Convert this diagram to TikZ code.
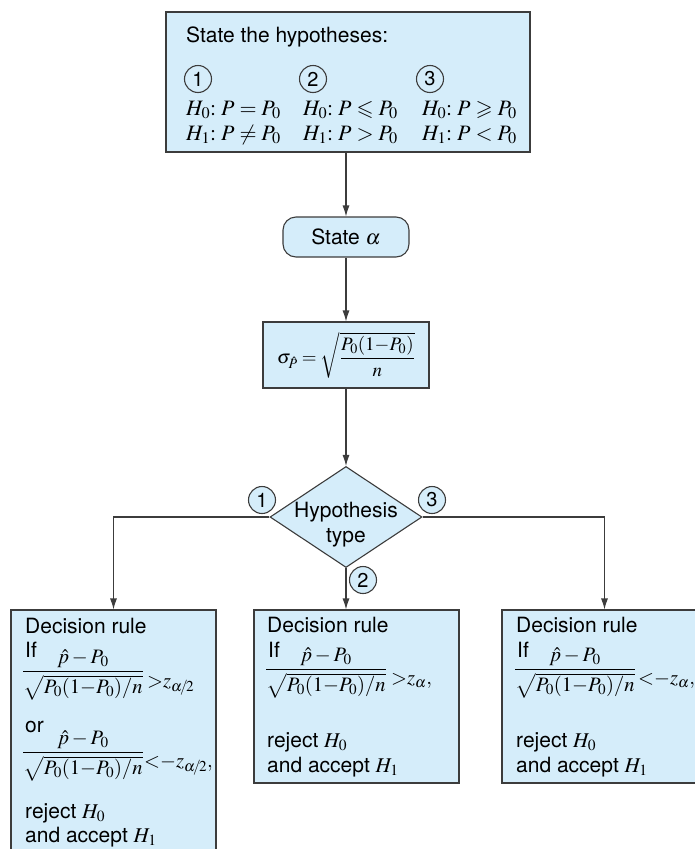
\documentclass[tikz,border=0pt]{standalone}
\usepackage{amsmath, amssymb}
\usepackage{mathptmx}
\usepackage[no-math]{fontspec}
\setsansfont{TeX Gyre Heros}
\usetikzlibrary{arrows.meta, positioning, calc, shapes.geometric}
\definecolor{boxblue}{RGB}{213,237,250}
\definecolor{linegray}{RGB}{60,60,60}
\tikzset{
    % light blue process box
    stepbox/.style={rectangle, draw=linegray, fill=boxblue, line width=1.1pt, inner sep=0pt},
    % rounded terminal box
    termbox/.style={stepbox, rounded corners=13pt},
    % decision diamond
    choice/.style={diamond, draw=linegray, fill=boxblue, line width=1.1pt, inner sep=0pt,
        minimum width=152pt, minimum height=101pt},
    % circled case number
    casenum/.style={circle, draw=linegray, fill=boxblue, line width=1.1pt, minimum size=27pt,
        inner sep=0pt, font=\fontsize{20}{24}\selectfont\sffamily},
    % one line of text, placed by its baseline
    txt/.style={anchor=base west, inner sep=0pt},
    % hypotheses lines
    mathtxt/.style={txt, font=\fontsize{22}{25}\selectfont},
    % test statistic with its leading word
    fractxt/.style={txt, font=\fontsize{20.5}{24}\selectfont\sffamily},
    % directed edges
    flow/.style={-{Latex[length=11pt, width=7pt]}, line width=1.1pt, draw=linegray},
}
\newcommand{\zratio}{\dfrac{\hat{p}-P_0}{\sqrt{P_0(1{-}P_0)/n}}}
\newcommand{\leadword}[2]{\rlap{\hspace{3pt}\raisebox{#1}{\fontsize{21}{25}\selectfont #2}}}

\begin{document}
\begin{tikzpicture}[x=1pt, y=-1pt, font=\fontsize{21}{25}\selectfont\sffamily]

    \useasboundingbox (0,0) rectangle (695,849);
    \clip (0,0) rectangle (695,849);

    % ---- hypotheses ----
    \node[stepbox, minimum width=364pt, minimum height=140pt] (hyps) at (348,82) {};
    \node[txt] (hyphead) at (186,42) {State the hypotheses:};
    \node[casenum] (c1) at (198,79) {1};
    \node[casenum] (c2) at (313,79) {2};
    \node[casenum] (c3) at (430,79) {3};
    \node[mathtxt] (h01) at (186,115) {$H_0{:}\;P = P_0$};
    \node[mathtxt] (h11) at (186,140) {$H_1{:}\;P \neq P_0$};
    \node[mathtxt] (h02) at (303,115) {$H_0{:}\;P \leqslant P_0$};
    \node[mathtxt] (h12) at (303,140) {$H_1{:}\;P > P_0$};
    \node[mathtxt] (h03) at (422,115) {$H_0{:}\;P \geqslant P_0$};
    \node[mathtxt] (h13) at (422,140) {$H_1{:}\;P < P_0$};

    % ---- alpha and standard error ----
    \node[termbox, minimum width=126pt, minimum height=40pt] (state) at (346,237) {State $\alpha$};
    \node[stepbox, minimum width=166pt, minimum height=66pt, font=\fontsize{19}{23}\selectfont]
        (sigma) at (346,355) {$\sigma_{\hat{P}} = \sqrt{\dfrac{P_0(1{-}P_0)}{n}}$};

    % ---- hypothesis type ----
    \node[choice] (htype) at (346,517) {};
    \node[align=center] (htypetxt) at ($(htype)+(0,8)$) {Hypothesis\\type};

    % ---- decision rules ----
    \node[stepbox, minimum width=205pt, minimum height=270pt] (rule1) at (113.5,745) {};
    \node[stepbox, minimum width=205pt, minimum height=173pt] (rule2) at (356.5,696.5) {};
    \node[stepbox, minimum width=205pt, minimum height=173pt] (rule3) at (604.5,696.5) {};

    % edges
    \draw[flow] (hyps.south -| state.north) -- (state.north);
    \draw[flow] (state) -- (sigma);
    \draw[flow] (sigma) -- (htype);
    \draw[flow] (htype.west) -| (rule1.north);
    \draw[flow] (htype.east) -| (rule3.north);
    \draw[flow] (htype.south) -- (htype.south |- rule2.north);

    \node[casenum] (b1) at (262,500) {1};
    \node[casenum] (b2) at (363,580) {2};
    \node[casenum] (b3) at (432,500) {3};

    % two-tailed rule
    \node[txt] (dec1) at (25,633) {Decision rule};
    \node[fractxt] (frac1a) at (22,677) {\leadword{20pt}{If}$\zratio$};
    \node[fractxt] (rel1a) at ($(frac1a.base east)+(3,10)$) {${>}z_{\alpha\!/\!2}$};
    \node[fractxt] (frac1b) at (22,758) {\leadword{26pt}{or}$\zratio$};
    \node[fractxt] (rel1b) at ($(frac1b.base east)+(0,9)$) {${<}{-}z_{\alpha\!/\!2},$};
    \node[txt] (rej1) at (25,818) {reject $H_0$};
    \node[txt] (acc1) at (25,842) {and accept $H_1$};

    % upper-tail rule
    \node[txt] (dec2) at (267,632) {Decision rule};
    \node[fractxt] (frac2) at (265,675) {\leadword{18pt}{If}$\zratio$};
    \node[fractxt] (rel2) at ($(frac2.base east)+(4,9)$) {${>}z_{\alpha},$};
    \node[txt] (rej2) at (267,747) {reject $H_0$};
    \node[txt] (acc2) at (267,772) {and accept $H_1$};

    % lower-tail rule
    \node[txt] (dec3) at (516,632) {Decision rule};
    \node[fractxt] (frac3) at (514,675) {\leadword{18pt}{If}$\zratio$};
    \node[fractxt] (rel3) at ($(frac3.base east)+(2,9)$) {${<}{-}z_{\alpha},$};
    \node[txt] (rej3) at (516,747) {reject $H_0$};
    \node[txt] (acc3) at (516,772) {and accept $H_1$};

\end{tikzpicture}
\end{document}
